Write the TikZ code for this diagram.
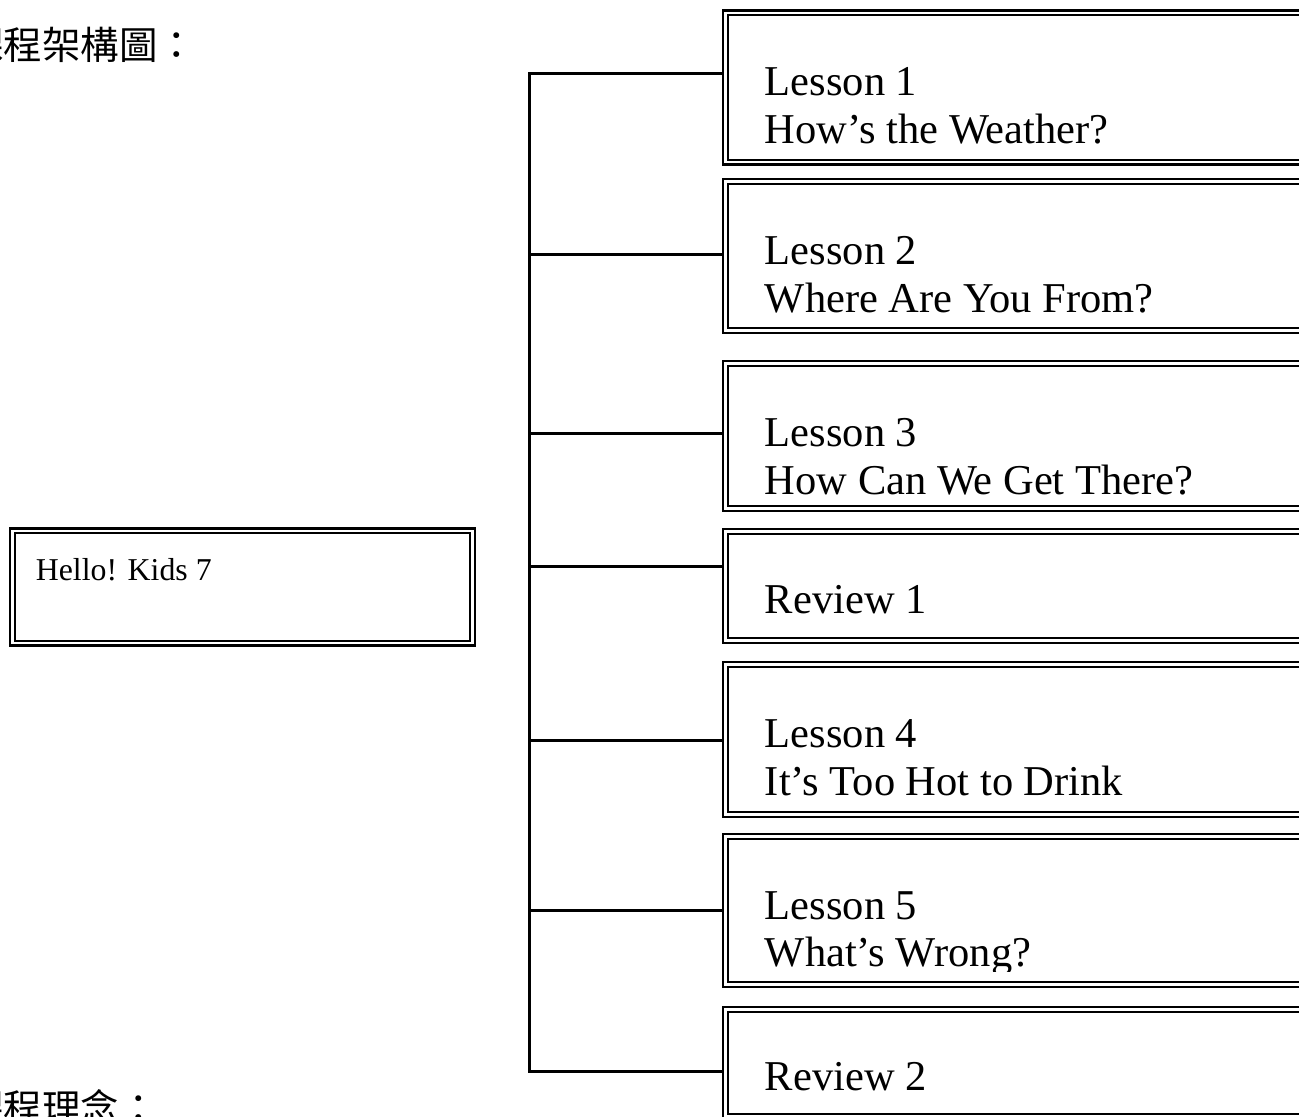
\documentclass[tikz,border=0pt]{standalone}
\usepackage{fontspec}
\setmainfont{Liberation Serif}
\newfontfamily\cjkfont{Noto Sans CJK TC}
\begin{document}
\begin{tikzpicture}[x=0.5pt,y=-0.5pt,
  dbox/.style={draw, rectangle, double, line width=1.15pt, double distance=1.25pt,
    inner sep=0pt, outer sep=1.75pt, anchor=north west, minimum width=300.5pt},
  conn/.style={line width=1.5pt, line join=miter},
  lesson/.style={anchor=base west, inner sep=0pt, font=\fontsize{21.25pt}{24pt}\selectfont},
  small/.style={anchor=base west, inner sep=0pt, font=\fontsize{15.9pt}{18pt}\selectfont},
  cjk/.style={anchor=base west, inner sep=0pt, font=\cjkfont\fontsize{19.25pt}{22pt}\selectfont}]
\useasboundingbox (0,0) rectangle (1299,1116);

% headings
\node[cjk] (h1) at (-35,59) {課程架構圖：};
\node[cjk] (h2) at (-35,1122) {課程理念：};

% root box
\node[dbox, minimum width=230pt, minimum height=56.2pt] (root) at (9,527.3) {};
\node[small] (roott) at (35.5,580.7) {Hello! Kids 7};

% lesson boxes
\node[dbox, minimum height=74.65pt] (b1) at (722,9.3) {};
\node[dbox, minimum height=74.5pt]  (b2) at (722,178) {};
\node[dbox, minimum height=72.5pt]  (b3) at (722,360) {};
\node[dbox, minimum height=54.5pt]  (b4) at (722,528) {};
\node[dbox, minimum height=75pt]    (b5) at (722,661) {};
\node[dbox, minimum height=74pt]    (b6) at (722,833) {};
\node[dbox, minimum height=53.5pt]  (b7) at (722,1006) {};

% texts
\node[lesson] (l1a) at (764.5,95) {Lesson 1};
\node[lesson] (l1b) at (764.5,143) {How’s the Weather?};
\node[lesson] (l2a) at (764.5,264) {Lesson 2};
\node[lesson] (l2b) at (764.5,312) {Where Are You From?};
\node[lesson] (l3a) at (764.5,446) {Lesson 3};
\node[lesson] (l3b) at (764.5,494) {How Can We Get There?};
\node[lesson] (l4)  at (764.5,613) {Review 1};
\node[lesson] (l5a) at (764.5,747) {Lesson 4};
\node[lesson] (l5b) at (764.5,795) {It’s Too Hot to Drink};
\node[lesson] (l6a) at (764.5,919) {Lesson 5};
\begin{scope}
  \clip (740,930) rectangle (1299,971);
  \node[lesson] (l6b) at (764.5,966) {What’s Wrong?};
\end{scope}
\node[lesson] (l7)  at (764.5,1090) {Review 2};

% trunk coordinates
\coordinate (t1) at (529,73.3);
\coordinate (t2) at (529,254);
\coordinate (t3) at (529,433);
\coordinate (t4) at (529,566);
\coordinate (t5) at (529,740);
\coordinate (t6) at (529,910.5);
\coordinate (t7) at (529,1071);

% connectors
\draw[conn] (t1 -| b1.west) -- (t1) -- (t7) -- (t7 -| b7.west);
\draw[conn] (t2) -- (t2 -| b2.west);
\draw[conn] (t3) -- (t3 -| b3.west);
\draw[conn] (t4) -- (t4 -| b4.west);
\draw[conn] (t5) -- (t5 -| b5.west);
\draw[conn] (t6) -- (t6 -| b6.west);
\end{tikzpicture}
\end{document}
